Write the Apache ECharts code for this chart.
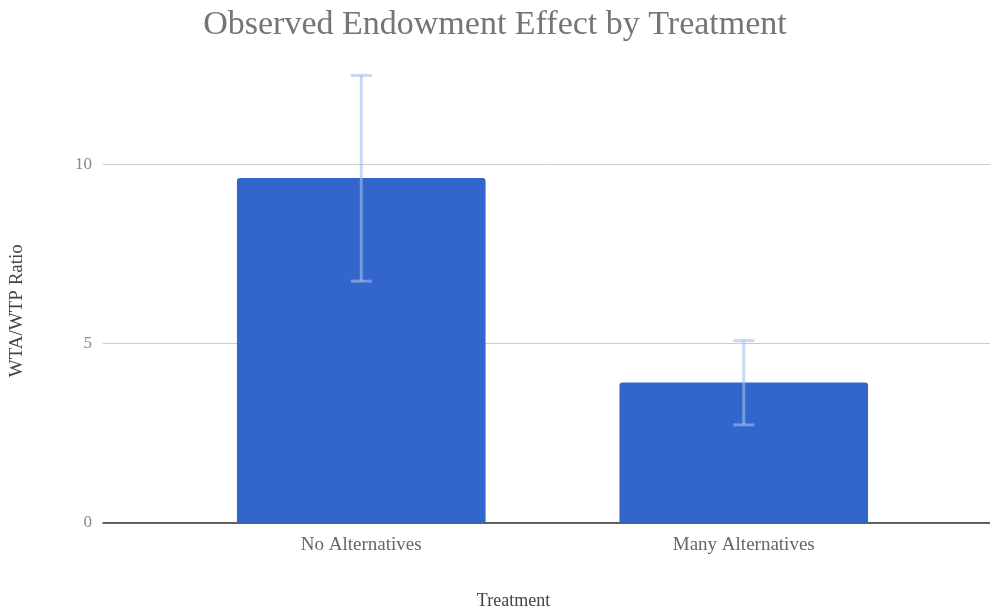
<!DOCTYPE html>
<html>
<head>
<meta charset="utf-8">
<script src="https://cdn.jsdelivr.net/npm/echarts@6/dist/echarts.min.js"></script>
<style>html,body{margin:0;padding:0;background:#fff;}#c{width:990px;height:609px;}</style>
</head>
<body>
<div id="c"></div>
<script>
const categories = ['No Alternatives', 'Many Alternatives'];
const ratios = [9.62, 3.91];
const errLow = [6.74, 2.73];
const errHigh = [12.48, 5.08];

const serif = '"Liberation Serif", "DejaVu Serif", serif';
const chart = echarts.init(document.getElementById('c'));
const grids = [
  { left: 103, right: 0, top: 74.7, bottom: 86.3, outerBoundsMode: 'none', containLabel: false },
  { left: 170, right: 55, top: 74.7, bottom: 86.3, outerBoundsMode: 'none', containLabel: false }
];
chart.setOption({
  backgroundColor: '#fff',
  animation: false,
  title: {
    text: 'Observed Endowment Effect by Treatment',
    left: 'center', top: 3,
    textStyle: { fontFamily: serif, fontSize: 34, fontWeight: 'normal', color: '#757575' }
  },
  grid: grids,
  xAxis: [
    {
      type: 'category', gridIndex: 0, data: categories,
      axisLine: { lineStyle: { color: '#333', width: 1.5 } },
      axisTick: { show: false }, axisLabel: { show: false },
      name: 'Treatment', nameLocation: 'middle', nameGap: 70,
      nameTextStyle: { fontFamily: serif, fontSize: 18, color: '#444', padding: [0, 66, 0, 0] }
    },
    {
      type: 'category', gridIndex: 1, data: categories,
      axisLine: { show: false }, axisTick: { show: false },
      axisLabel: { fontFamily: serif, fontSize: 19, color: '#666', margin: 13 }
    }
  ],
  yAxis: [
    {
      type: 'value', gridIndex: 0, min: 0, max: 12.5, interval: 5,
      axisLine: { show: false }, axisTick: { show: false },
      axisLabel: { fontFamily: serif, fontSize: 17, color: '#888', margin: 11, showMaxLabel: false },
      splitLine: { lineStyle: { color: '#cccccc', width: 1 }, showMaxLine: false },
      name: 'WTA/WTP Ratio', nameLocation: 'middle', nameGap: 76,
      nameTextStyle: { fontFamily: serif, fontSize: 19, color: '#444', padding: [0, 24, 0, 0] }
    },
    {
      type: 'value', gridIndex: 1, min: 0, max: 12.5, interval: 5,
      show: false, splitLine: { show: false }
    }
  ],
  series: [
    {
      type: 'bar', xAxisIndex: 1, yAxisIndex: 1,
      data: ratios, barWidth: '65%',
      itemStyle: { color: '#3366cc', borderRadius: [3, 3, 0, 0] },
      z: 2
    },
    {
      type: 'custom', xAxisIndex: 1, yAxisIndex: 1, z: 3,
      data: categories.map((c, i) => [i, errLow[i], errHigh[i]]),
      renderItem: function (params, api) {
        const x = api.value(0);
        const lo = api.coord([x, api.value(1)]);
        const hi = api.coord([x, api.value(2)]);
        const hw = 10.5;
        const style = { stroke: 'rgba(160,190,235,0.6)', lineWidth: 3 };
        return {
          type: 'group',
          children: [
            { type: 'line', shape: { x1: hi[0], y1: hi[1], x2: lo[0], y2: lo[1] }, style: style },
            { type: 'line', shape: { x1: hi[0] - hw, y1: hi[1], x2: hi[0] + hw, y2: hi[1] }, style: style },
            { type: 'line', shape: { x1: lo[0] - hw, y1: lo[1], x2: lo[0] + hw, y2: lo[1] }, style: style }
          ]
        };
      }
    }
  ]
});
</script>
</body>
</html>
